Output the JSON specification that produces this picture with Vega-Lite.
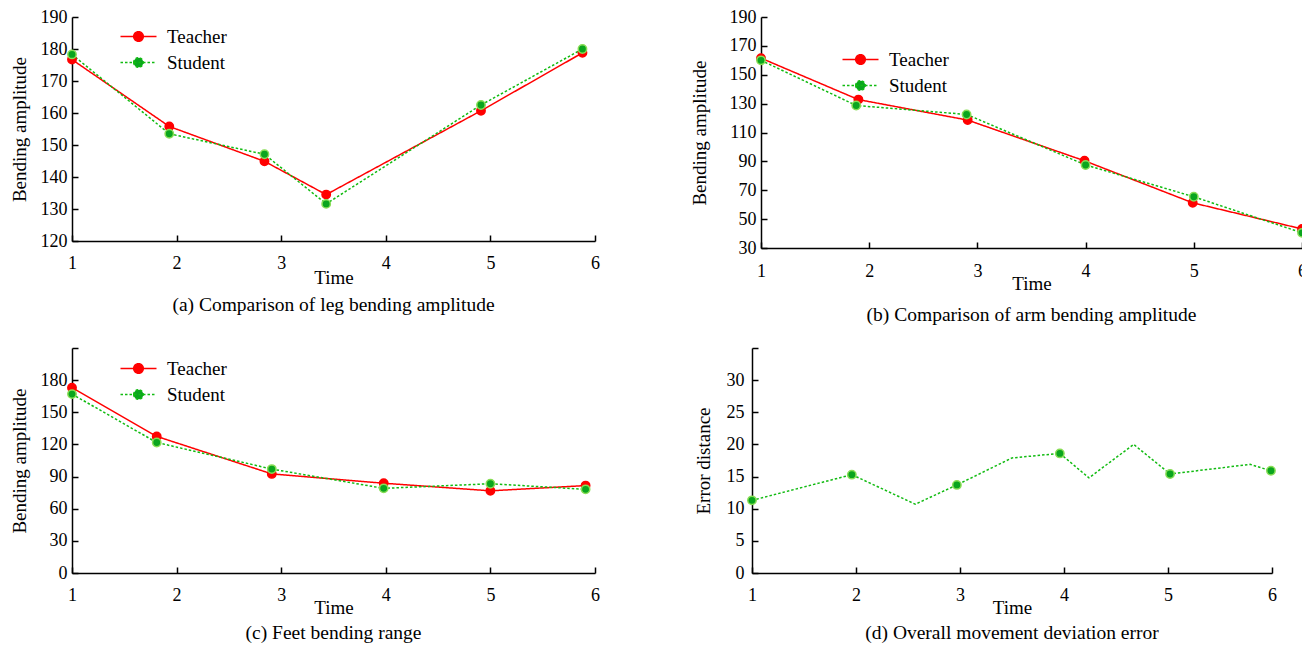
{
  "$schema": "https://vega.github.io/schema/vega-lite/v6.json",
  "background": "white",
  "padding": {"left": 10, "top": 8, "right": 0, "bottom": 0},
  "config": {
    "view": {"stroke": null},
    "font": "Liberation Serif",
    "axis": {
      "grid": false,
      "domainColor": "#000000",
      "domainWidth": 1.5,
      "tickColor": "#000000",
      "tickWidth": 1.5,
      "tickSize": -6,
      "labelFont": "Liberation Serif",
      "labelFontSize": 18,
      "labelColor": "#000000",
      "labelFlush": false,
      "labelOverlap": false,
      "titleFont": "Liberation Serif",
      "titleFontSize": 19,
      "titleFontWeight": "normal",
      "titleColor": "#000000"
    },
    "title": {"font": "Liberation Serif", "fontSize": 19.5, "fontWeight": "normal", "color": "#000000", "orient": "bottom", "anchor": "middle"},
    "legend": {
      "orient": "none",
      "title": null,
      "padding": 0,
      "labelFont": "Liberation Serif",
      "labelFontSize": 19,
      "labelColor": "#000000",
      "labelOffset": 19,
      "rowPadding": 6,
      "symbolType": "M-3,0H3M-0.8,0a0.8,0.8 0 1,0 1.6,0a0.8,0.8 0 1,0 -1.6,0",
      "symbolSize": 144,
      "symbolStrokeWidth": 1.5
    }
  },
  "datasets": {
    "leg": [
      {"series": "Teacher", "t": 1, "v": 176.7},
      {"series": "Teacher", "t": 1.93, "v": 155.8},
      {"series": "Teacher", "t": 2.84, "v": 144.9},
      {"series": "Teacher", "t": 3.43, "v": 134.5},
      {"series": "Teacher", "t": 4.91, "v": 160.7},
      {"series": "Teacher", "t": 5.88, "v": 178.8},
      {"series": "Student", "t": 1, "v": 178.3},
      {"series": "Student", "t": 1.93, "v": 153.5},
      {"series": "Student", "t": 2.84, "v": 147.1},
      {"series": "Student", "t": 3.43, "v": 131.6},
      {"series": "Student", "t": 4.91, "v": 162.5},
      {"series": "Student", "t": 5.88, "v": 180.0}
    ],
    "arm": [
      {"series": "Teacher", "t": 1, "v": 161.5},
      {"series": "Teacher", "t": 1.9, "v": 132.8},
      {"series": "Teacher", "t": 2.91, "v": 118.6},
      {"series": "Teacher", "t": 3.99, "v": 90.4},
      {"series": "Teacher", "t": 4.99, "v": 61.3},
      {"series": "Teacher", "t": 6, "v": 43.2},
      {"series": "Student", "t": 1, "v": 160.0},
      {"series": "Student", "t": 1.88, "v": 128.7},
      {"series": "Student", "t": 2.9, "v": 122.5},
      {"series": "Student", "t": 4, "v": 87.5},
      {"series": "Student", "t": 5, "v": 65.5},
      {"series": "Student", "t": 6, "v": 40.5}
    ],
    "feet": [
      {"series": "Teacher", "t": 1, "v": 173.0},
      {"series": "Teacher", "t": 1.81, "v": 127.5},
      {"series": "Teacher", "t": 2.91, "v": 92.5},
      {"series": "Teacher", "t": 3.98, "v": 83.8},
      {"series": "Teacher", "t": 5.0, "v": 76.7},
      {"series": "Teacher", "t": 5.91, "v": 81.6},
      {"series": "Student", "t": 1, "v": 167.0},
      {"series": "Student", "t": 1.81, "v": 121.8},
      {"series": "Student", "t": 2.91, "v": 97.0},
      {"series": "Student", "t": 3.98, "v": 79.0},
      {"series": "Student", "t": 5.0, "v": 83.3},
      {"series": "Student", "t": 5.91, "v": 78.1}
    ],
    "error": [
      {"t": 1, "v": 11.3, "marker": true},
      {"t": 1.96, "v": 15.3, "marker": true},
      {"t": 2.57, "v": 10.7, "marker": false},
      {"t": 2.97, "v": 13.7, "marker": true},
      {"t": 3.5, "v": 17.9, "marker": false},
      {"t": 3.96, "v": 18.6, "marker": true},
      {"t": 4.24, "v": 14.8, "marker": false},
      {"t": 4.67, "v": 20.0, "marker": false},
      {"t": 5.02, "v": 15.4, "marker": true},
      {"t": 5.79, "v": 16.9, "marker": false},
      {"t": 5.99, "v": 15.9, "marker": true}
    ]
  },
  "spacing": 14,
  "resolve": {"scale": {"color": "independent", "fill": "independent", "stroke": "independent", "strokeDash": "independent"}, "legend": {"color": "independent"}},
  "vconcat": [
    {
      "spacing": 90,
      "resolve": {"scale": {"color": "independent", "fill": "independent", "stroke": "independent", "strokeDash": "independent"}, "legend": {"color": "independent"}},
      "hconcat": [
        {
          "width": 523,
          "height": 224,
          "data": {"name": "leg"},
          "title": {"text": "(a) Comparison of leg bending amplitude", "offset": 9},
          "encoding": {
            "x": {"field": "t", "type": "quantitative", "scale": {"domain": [1, 6], "nice": false, "zero": false},
                  "axis": {"title": "Time", "values": [1, 2, 3, 4, 5, 6], "labelPadding": 19, "titlePadding": -4}},
            "y": {"field": "v", "type": "quantitative", "scale": {"domain": [120, 190], "nice": false, "zero": false},
                  "axis": {"title": "Bending amplitude", "values": [120, 130, 140, 150, 160, 170, 180, 190], "labelPadding": 11, "titlePadding": 11}}
          },
          "layer": [
            {
              "mark": {"type": "line", "strokeWidth": 1.5},
              "encoding": {
                "color": {"field": "series", "type": "nominal", "scale": {"domain": ["Teacher", "Student"], "range": ["#ff0000", "#11bb11"]},
                          "legend": {"legendX": 57, "legendY": 10,
                            "encode": {"symbols": {"update": {
                              "fill": [{"test": "datum.value === 'Teacher'", "value": "#ff0000"}, {"value": "#0aa51e"}],
                              "stroke": [{"test": "datum.value === 'Teacher'", "value": "#ff0000"}, {"value": "#22c422"}],
                              "strokeDash": [{"test": "datum.value === 'Teacher'", "value": [1, 0]}, {"value": [2.5, 2]}],
                              "strokeWidth": {"value": 1.5},
                              "opacity": {"value": 1}}}}}},
                "strokeDash": {"field": "series", "type": "nominal", "scale": {"domain": ["Teacher", "Student"], "range": [[1, 0], [2.5, 2]]}, "legend": null}
              }
            },
            {
              "mark": {"type": "point", "filled": true, "opacity": 1, "size": 70, "strokeWidth": 1.5},
              "encoding": {
                "fill": {"field": "series", "type": "nominal", "scale": {"domain": ["Teacher", "Student"], "range": ["#ff0000", "#0aa51e"]}, "legend": null},
                "stroke": {"field": "series", "type": "nominal", "scale": {"domain": ["Teacher", "Student"], "range": ["#ff0000", "#88dd55"]}, "legend": null}
              }
            }
          ]
        },
        {
          "width": 541,
          "height": 231,
          "data": {"name": "arm"},
          "title": {"text": "(b) Comparison of arm bending amplitude", "offset": 13},
          "encoding": {
            "x": {"field": "t", "type": "quantitative", "scale": {"domain": [1, 6], "nice": false, "zero": false},
                  "axis": {"title": "Time", "values": [1, 2, 3, 4, 5, 6], "labelPadding": 20, "titlePadding": -6}},
            "y": {"field": "v", "type": "quantitative", "scale": {"domain": [30, 190], "nice": false, "zero": false},
                  "axis": {"title": "Bending amplitude", "values": [30, 50, 70, 90, 110, 130, 150, 170, 190], "labelPadding": 11, "titlePadding": 20}}
          },
          "layer": [
            {
              "mark": {"type": "line", "strokeWidth": 1.5},
              "encoding": {
                "color": {"field": "series", "type": "nominal", "scale": {"domain": ["Teacher", "Student"], "range": ["#ff0000", "#11bb11"]},
                          "legend": {"legendX": 90, "legendY": 33,
                            "encode": {"symbols": {"update": {
                              "fill": [{"test": "datum.value === 'Teacher'", "value": "#ff0000"}, {"value": "#0aa51e"}],
                              "stroke": [{"test": "datum.value === 'Teacher'", "value": "#ff0000"}, {"value": "#22c422"}],
                              "strokeDash": [{"test": "datum.value === 'Teacher'", "value": [1, 0]}, {"value": [2.5, 2]}],
                              "strokeWidth": {"value": 1.5},
                              "opacity": {"value": 1}}}}}},
                "strokeDash": {"field": "series", "type": "nominal", "scale": {"domain": ["Teacher", "Student"], "range": [[1, 0], [2.5, 2]]}, "legend": null}
              }
            },
            {
              "mark": {"type": "point", "filled": true, "opacity": 1, "size": 70, "strokeWidth": 1.5},
              "encoding": {
                "fill": {"field": "series", "type": "nominal", "scale": {"domain": ["Teacher", "Student"], "range": ["#ff0000", "#0aa51e"]}, "legend": null},
                "stroke": {"field": "series", "type": "nominal", "scale": {"domain": ["Teacher", "Student"], "range": ["#ff0000", "#88dd55"]}, "legend": null}
              }
            }
          ]
        }
      ]
    },
    {
      "spacing": 94,
      "resolve": {"scale": {"color": "independent", "fill": "independent", "stroke": "independent", "strokeDash": "independent"}, "legend": {"color": "independent"}},
      "hconcat": [
        {
          "width": 523,
          "height": 225,
          "data": {"name": "feet"},
          "title": {"text": "(c) Feet bending range", "offset": 7},
          "encoding": {
            "x": {"field": "t", "type": "quantitative", "scale": {"domain": [1, 6], "nice": false, "zero": false},
                  "axis": {"title": "Time", "values": [1, 2, 3, 4, 5, 6], "labelPadding": 19, "titlePadding": -6}},
            "y": {"field": "v", "type": "quantitative", "scale": {"domain": [0, 210], "nice": false, "zero": false},
                  "axis": {"title": "Bending amplitude", "values": [0, 30, 60, 90, 120, 150, 180, 210], "labelExpr": "datum.value == 210 ? '' : datum.label", "labelPadding": 11, "titlePadding": 11}}
          },
          "layer": [
            {
              "mark": {"type": "line", "strokeWidth": 1.5},
              "encoding": {
                "color": {"field": "series", "type": "nominal", "scale": {"domain": ["Teacher", "Student"], "range": ["#ff0000", "#11bb11"]},
                          "legend": {"legendX": 57, "legendY": 11,
                            "encode": {"symbols": {"update": {
                              "fill": [{"test": "datum.value === 'Teacher'", "value": "#ff0000"}, {"value": "#0aa51e"}],
                              "stroke": [{"test": "datum.value === 'Teacher'", "value": "#ff0000"}, {"value": "#22c422"}],
                              "strokeDash": [{"test": "datum.value === 'Teacher'", "value": [1, 0]}, {"value": [2.5, 2]}],
                              "strokeWidth": {"value": 1.5},
                              "opacity": {"value": 1}}}}}},
                "strokeDash": {"field": "series", "type": "nominal", "scale": {"domain": ["Teacher", "Student"], "range": [[1, 0], [2.5, 2]]}, "legend": null}
              }
            },
            {
              "mark": {"type": "point", "filled": true, "opacity": 1, "size": 70, "strokeWidth": 1.5},
              "encoding": {
                "fill": {"field": "series", "type": "nominal", "scale": {"domain": ["Teacher", "Student"], "range": ["#ff0000", "#0aa51e"]}, "legend": null},
                "stroke": {"field": "series", "type": "nominal", "scale": {"domain": ["Teacher", "Student"], "range": ["#ff0000", "#88dd55"]}, "legend": null}
              }
            }
          ]
        },
        {
          "width": 520,
          "height": 225,
          "data": {"name": "error"},
          "title": {"text": "(d) Overall movement deviation error", "offset": 7},
          "encoding": {
            "x": {"field": "t", "type": "quantitative", "scale": {"domain": [1, 6], "nice": false, "zero": false},
                  "axis": {"title": "Time", "values": [1, 2, 3, 4, 5, 6], "labelPadding": 19, "titlePadding": -6}},
            "y": {"field": "v", "type": "quantitative", "scale": {"domain": [0, 35], "nice": false, "zero": false},
                  "axis": {"title": "Error distance", "values": [0, 5, 10, 15, 20, 25, 30, 35], "labelExpr": "datum.value == 35 ? '' : datum.label", "labelPadding": 14, "titlePadding": 13}}
          },
          "layer": [
            {
              "mark": {"type": "line", "strokeWidth": 1.5, "color": "#11bb11", "strokeDash": [2.5, 2]},
              "encoding": {}
            },
            {
              "transform": [{"filter": "datum.marker"}],
              "mark": {"type": "point", "filled": true, "opacity": 1, "size": 70, "strokeWidth": 1.5, "fill": "#0aa51e", "stroke": "#88dd55"},
              "encoding": {}
            }
          ]
        }
      ]
    }
  ]
}
